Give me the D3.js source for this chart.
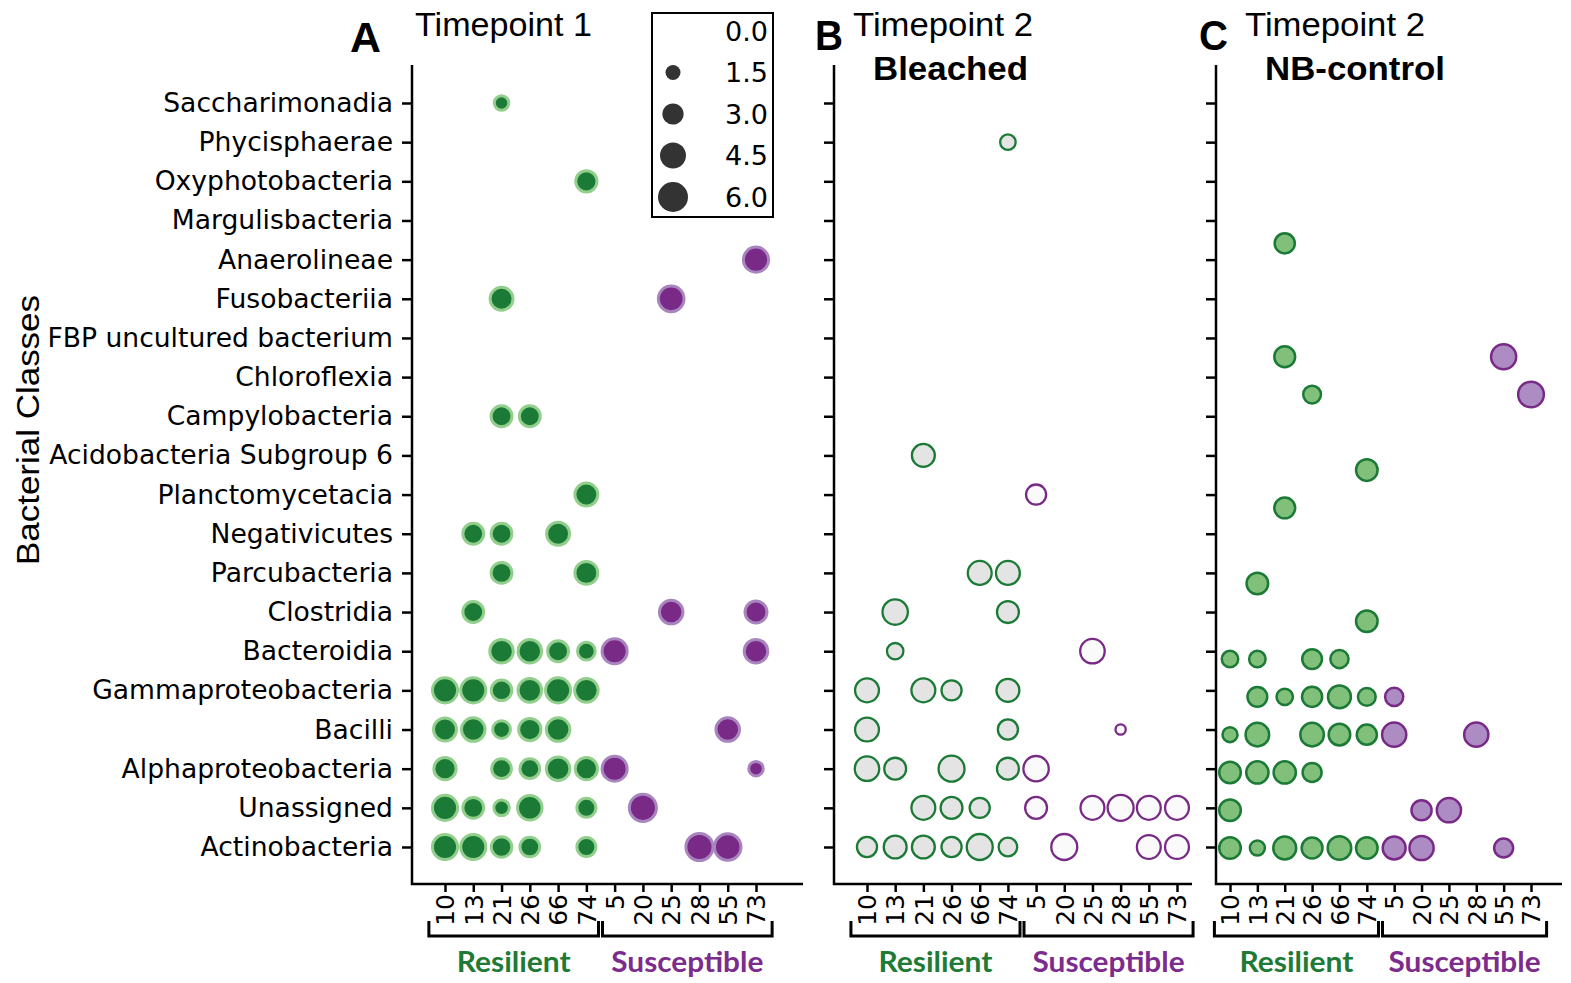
<!DOCTYPE html>
<html>
<head>
<meta charset="utf-8">
<script src="https://cdn.jsdelivr.net/npm/d3@7"></script>
<style>
  body { margin: 0; background: #fff; }
  .axis text { font-family: "DejaVu Sans", sans-serif; fill: #000; }
  .axis line { stroke: #000; stroke-width: 2.5; }
</style>
</head>
<body>
<svg id="chart" width="1571" height="983"></svg>
<script>
// bacterial classes, top to bottom
var classes = ["Saccharimonadia", "Phycisphaerae", "Oxyphotobacteria", "Margulisbacteria",
  "Anaerolineae", "Fusobacteriia", "FBP uncultured bacterium", "Chloroflexia",
  "Campylobacteria", "Acidobacteria Subgroup 6", "Planctomycetacia", "Negativicutes",
  "Parcubacteria", "Clostridia", "Bacteroidia", "Gammaproteobacteria", "Bacilli",
  "Alphaproteobacteria", "Unassigned", "Actinobacteria"];

// colonies, resilient first then susceptible
var resilient = ["10", "13", "21", "26", "66", "74"];
var susceptible = ["5", "20", "25", "28", "55", "73"];
var colonies = resilient.concat(susceptible);

var legendValues = [0.0, 1.5, 3.0, 4.5, 6.0];

// [class, colony, size]
var timepoint1 = [
  ["Saccharimonadia", "21", 1.4],
  ["Oxyphotobacteria", "74", 3.0],
  ["Anaerolineae", "73", 4.2],
  ["Fusobacteriia", "21", 3.5], ["Fusobacteriia", "25", 4.4],
  ["Campylobacteria", "21", 2.9], ["Campylobacteria", "26", 2.9],
  ["Planctomycetacia", "74", 3.5],
  ["Negativicutes", "13", 2.9], ["Negativicutes", "21", 2.9], ["Negativicutes", "66", 3.5],
  ["Parcubacteria", "21", 2.9], ["Parcubacteria", "74", 3.5],
  ["Clostridia", "13", 2.9], ["Clostridia", "25", 3.7], ["Clostridia", "73", 3.2],
  ["Bacteroidia", "21", 3.7], ["Bacteroidia", "26", 3.7], ["Bacteroidia", "66", 2.9],
  ["Bacteroidia", "74", 2.1], ["Bacteroidia", "5", 4.2], ["Bacteroidia", "73", 3.7],
  ["Gammaproteobacteria", "10", 4.2], ["Gammaproteobacteria", "13", 4.2], ["Gammaproteobacteria", "21", 2.8],
  ["Gammaproteobacteria", "26", 3.7], ["Gammaproteobacteria", "66", 4.2], ["Gammaproteobacteria", "74", 3.7],
  ["Bacilli", "10", 3.5], ["Bacilli", "13", 3.7], ["Bacilli", "21", 2.1],
  ["Bacilli", "26", 3.3], ["Bacilli", "66", 3.7], ["Bacilli", "55", 3.7],
  ["Alphaproteobacteria", "10", 3.3], ["Alphaproteobacteria", "21", 2.6], ["Alphaproteobacteria", "26", 2.6],
  ["Alphaproteobacteria", "66", 3.7], ["Alphaproteobacteria", "74", 3.3], ["Alphaproteobacteria", "5", 4.2],
  ["Alphaproteobacteria", "73", 1.4],
  ["Unassigned", "10", 4.2], ["Unassigned", "13", 2.9], ["Unassigned", "21", 1.6],
  ["Unassigned", "26", 4.0], ["Unassigned", "74", 2.4], ["Unassigned", "20", 4.9],
  ["Actinobacteria", "10", 4.2], ["Actinobacteria", "13", 4.2], ["Actinobacteria", "21", 2.8],
  ["Actinobacteria", "26", 2.6], ["Actinobacteria", "74", 2.4], ["Actinobacteria", "28", 4.9],
  ["Actinobacteria", "55", 4.7]
];

var bleached = [
  ["Phycisphaerae", "74", 1.6],
  ["Acidobacteria Subgroup 6", "21", 3.5],
  ["Planctomycetacia", "5", 2.7],
  ["Parcubacteria", "66", 3.8], ["Parcubacteria", "74", 3.8],
  ["Clostridia", "13", 4.3], ["Clostridia", "74", 3.2],
  ["Bacteroidia", "13", 1.8], ["Bacteroidia", "25", 4.0],
  ["Gammaproteobacteria", "10", 3.8], ["Gammaproteobacteria", "21", 3.8],
  ["Gammaproteobacteria", "26", 2.7], ["Gammaproteobacteria", "74", 3.5],
  ["Bacilli", "10", 3.8], ["Bacilli", "74", 2.7], ["Bacilli", "28", 0.7],
  ["Alphaproteobacteria", "10", 4.0], ["Alphaproteobacteria", "13", 3.2], ["Alphaproteobacteria", "26", 4.5],
  ["Alphaproteobacteria", "74", 3.2], ["Alphaproteobacteria", "5", 4.3],
  ["Unassigned", "21", 3.8], ["Unassigned", "26", 3.2], ["Unassigned", "66", 2.7],
  ["Unassigned", "5", 3.2], ["Unassigned", "25", 3.8], ["Unassigned", "28", 4.5],
  ["Unassigned", "55", 3.8], ["Unassigned", "73", 3.8],
  ["Actinobacteria", "10", 2.7], ["Actinobacteria", "13", 3.5], ["Actinobacteria", "21", 3.5],
  ["Actinobacteria", "26", 2.7], ["Actinobacteria", "66", 4.5], ["Actinobacteria", "74", 2.3],
  ["Actinobacteria", "20", 4.5], ["Actinobacteria", "55", 3.8], ["Actinobacteria", "73", 3.8]
];

var nbControl = [
  ["Margulisbacteria", "21", 2.7],
  ["FBP uncultured bacterium", "21", 2.9], ["FBP uncultured bacterium", "55", 4.2],
  ["Chloroflexia", "26", 2.1], ["Chloroflexia", "73", 4.4],
  ["Acidobacteria Subgroup 6", "74", 3.1],
  ["Planctomycetacia", "21", 2.9],
  ["Parcubacteria", "13", 3.1],
  ["Clostridia", "74", 3.1],
  ["Bacteroidia", "10", 1.8], ["Bacteroidia", "13", 1.8], ["Bacteroidia", "26", 2.6], ["Bacteroidia", "66", 2.2],
  ["Gammaproteobacteria", "13", 2.6], ["Gammaproteobacteria", "21", 1.8], ["Gammaproteobacteria", "26", 2.7],
  ["Gammaproteobacteria", "66", 3.5], ["Gammaproteobacteria", "74", 2.1], ["Gammaproteobacteria", "5", 2.2],
  ["Bacilli", "10", 1.5], ["Bacilli", "13", 3.7], ["Bacilli", "26", 3.7], ["Bacilli", "66", 3.1],
  ["Bacilli", "74", 2.7], ["Bacilli", "5", 3.9], ["Bacilli", "28", 3.9],
  ["Alphaproteobacteria", "10", 3.1], ["Alphaproteobacteria", "13", 3.3],
  ["Alphaproteobacteria", "21", 3.3], ["Alphaproteobacteria", "26", 2.4],
  ["Unassigned", "10", 3.1], ["Unassigned", "20", 2.7], ["Unassigned", "25", 3.9],
  ["Actinobacteria", "10", 3.1], ["Actinobacteria", "13", 1.5], ["Actinobacteria", "21", 3.5],
  ["Actinobacteria", "26", 2.9], ["Actinobacteria", "66", 3.7], ["Actinobacteria", "74", 3.1],
  ["Actinobacteria", "5", 3.5], ["Actinobacteria", "20", 3.9], ["Actinobacteria", "55", 2.4]
];

var svg = d3.select("#chart");

var axisTop = 65, axisBottom = 884;
var rScale = d3.scaleSqrt().domain([0, 6]).range([0, 15]);

// marker styles per panel: [resilient, susceptible]
var styles = {
  solid: { fill: ["#1b7a36", "#782a86"], stroke: ["#92cf8c", "#a985c0"], width: 3 },
  open:  { fill: ["#e4e4e4", "#fafafa"], stroke: ["#1b7a36", "#782a86"], width: 2.3 },
  light: { fill: ["#80c07b", "#ad8cc3"], stroke: ["#1b7a36", "#782a86"], width: 2.5 }
};

var panels = [
  { data: timepoint1, left: 412, right: 803, xRange: [445, 756], yRange: [103, 847], style: "solid", labels: true },
  { data: bleached,   left: 834, right: 1192, xRange: [867, 1177], yRange: [103, 847], style: "open" },
  // panel C points sit on a slightly compressed grid in the original
  { data: nbControl,  left: 1216, right: 1562, xRange: [1230, 1531], yRange: [130, 848], style: "light" }
];

var yAxisScale = d3.scalePoint().domain(classes).range([103, 847]);

panels.forEach(function(p) {
  var x = d3.scalePoint().domain(colonies).range(p.xRange);
  var y = d3.scalePoint().domain(classes).range(p.yRange);
  var st = styles[p.style];

  // y axis
  var yAxis = d3.axisLeft(yAxisScale).tickSize(10).tickSizeOuter(0).tickPadding(9);
  if (!p.labels) yAxis.tickFormat("");
  var gy = svg.append("g")
      .attr("class", "axis")
      .attr("transform", "translate(" + p.left + ",0)")
      .call(yAxis);
  gy.select(".domain").remove();
  gy.selectAll("text").style("font-size", "26.6px");

  // x axis
  var gx = svg.append("g")
      .attr("class", "axis")
      .attr("transform", "translate(0," + axisBottom + ")")
      .call(d3.axisBottom(x).tickSize(8).tickSizeOuter(0));
  gx.select(".domain").remove();
  gx.selectAll("text")
      .style("font-size", "25px")
      .style("text-anchor", "end")
      .attr("transform", "rotate(-90)")
      .attr("x", -10)
      .attr("y", 0)
      .attr("dy", "0.35em");

  // spines
  svg.append("path")
      .attr("d", "M" + p.left + "," + axisTop + "V" + axisBottom + "H" + p.right)
      .attr("fill", "none")
      .attr("stroke", "#000")
      .attr("stroke-width", 2.5);

  // points
  svg.append("g").selectAll("circle")
    .data(p.data)
    .enter()
    .append("circle")
      .attr("cx", function(d) { return x(d[1]); })
      .attr("cy", function(d) { return y(d[0]); })
      .attr("r", function(d) { return rScale(d[2]); })
      .attr("fill", function(d) { return st.fill[resilient.indexOf(d[1]) >= 0 ? 0 : 1]; })
      .attr("stroke", function(d) { return st.stroke[resilient.indexOf(d[1]) >= 0 ? 0 : 1]; })
      .attr("stroke-width", st.width);

  // group brackets and names
  var step = x.step();
  var mid = (x("74") + x("5")) / 2;
  var groups = [
    { name: "Resilient", x1: x(resilient[0]) - step * 0.57, x2: mid - 2, color: "#1e7a34" },
    { name: "Susceptible", x1: mid + 2, x2: x(susceptible[5]) + step * 0.57, color: "#7b2c8d" }
  ];
  groups.forEach(function(g) {
    svg.append("path")
        .attr("d", "M" + g.x1 + ",921V936H" + g.x2 + "V921")
        .attr("fill", "none")
        .attr("stroke", "#000")
        .attr("stroke-width", 3);
    svg.append("text")
        .attr("x", (g.x1 + g.x2) / 2)
        .attr("y", 972)
        .attr("text-anchor", "middle")
        .attr("textLength", g.name === "Resilient" ? 114 : 152)
        .attr("lengthAdjust", "spacingAndGlyphs")
        .style("font-family", "Lato, 'Open Sans', sans-serif")
        .style("font-weight", "bold")
        .style("font-size", "29px")
        .attr("fill", g.color)
        .text(g.name);
  });
});

// y axis title
svg.append("text")
    .attr("transform", "translate(39,430) rotate(-90)")
    .attr("text-anchor", "middle")
    .attr("textLength", 270)
    .attr("lengthAdjust", "spacingAndGlyphs")
    .style("font-family", "'Liberation Sans', Arial, sans-serif")
    .style("font-size", "32px")
    .text("Bacterial Classes");

// panel letters and titles
var titles = [
  { t: "A", x: 350, y: 52, w: 31, bold: true, size: 42 },
  { t: "Timepoint 1", x: 415, y: 36, w: 177, size: 33 },
  { t: "B", x: 815, y: 50, w: 28, bold: true, size: 42 },
  { t: "Timepoint 2", x: 853, y: 36, w: 180, size: 33 },
  { t: "Bleached", x: 873, y: 80, w: 155, bold: true, size: 33 },
  { t: "C", x: 1199, y: 50, w: 29, bold: true, size: 42 },
  { t: "Timepoint 2", x: 1245, y: 36, w: 180, size: 33 },
  { t: "NB-control", x: 1265, y: 80, w: 180, bold: true, size: 33 }
];
titles.forEach(function(d) {
  svg.append("text")
      .attr("x", d.x)
      .attr("y", d.y)
      .attr("textLength", d.w)
      .attr("lengthAdjust", "spacingAndGlyphs")
      .style("font-family", "'Liberation Sans', Arial, sans-serif")
      .style("font-weight", d.bold ? "bold" : "normal")
      .style("font-size", d.size + "px")
      .text(d.t);
});

// size legend
var legend = svg.append("g").attr("class", "legend");
legend.append("rect")
    .attr("x", 652).attr("y", 13)
    .attr("width", 121).attr("height", 204)
    .attr("fill", "#fff")
    .attr("stroke", "#000")
    .attr("stroke-width", 2);
var ly = d3.scalePoint().domain(legendValues).range([31, 197]);
legend.selectAll("circle")
    .data(legendValues)
    .enter()
    .append("circle")
      .attr("cx", 673)
      .attr("cy", function(d) { return ly(d); })
      .attr("r", function(d) { return rScale(d); })
      .attr("fill", "#333");
legend.selectAll("text")
    .data(legendValues)
    .enter()
    .append("text")
      .attr("x", 768)
      .attr("y", function(d) { return ly(d); })
      .attr("dy", "0.36em")
      .attr("text-anchor", "end")
      .style("font-family", "'DejaVu Sans', sans-serif")
      .style("font-size", "27px")
      .text(function(d) { return d.toFixed(1); });
</script>
</body>
</html>
